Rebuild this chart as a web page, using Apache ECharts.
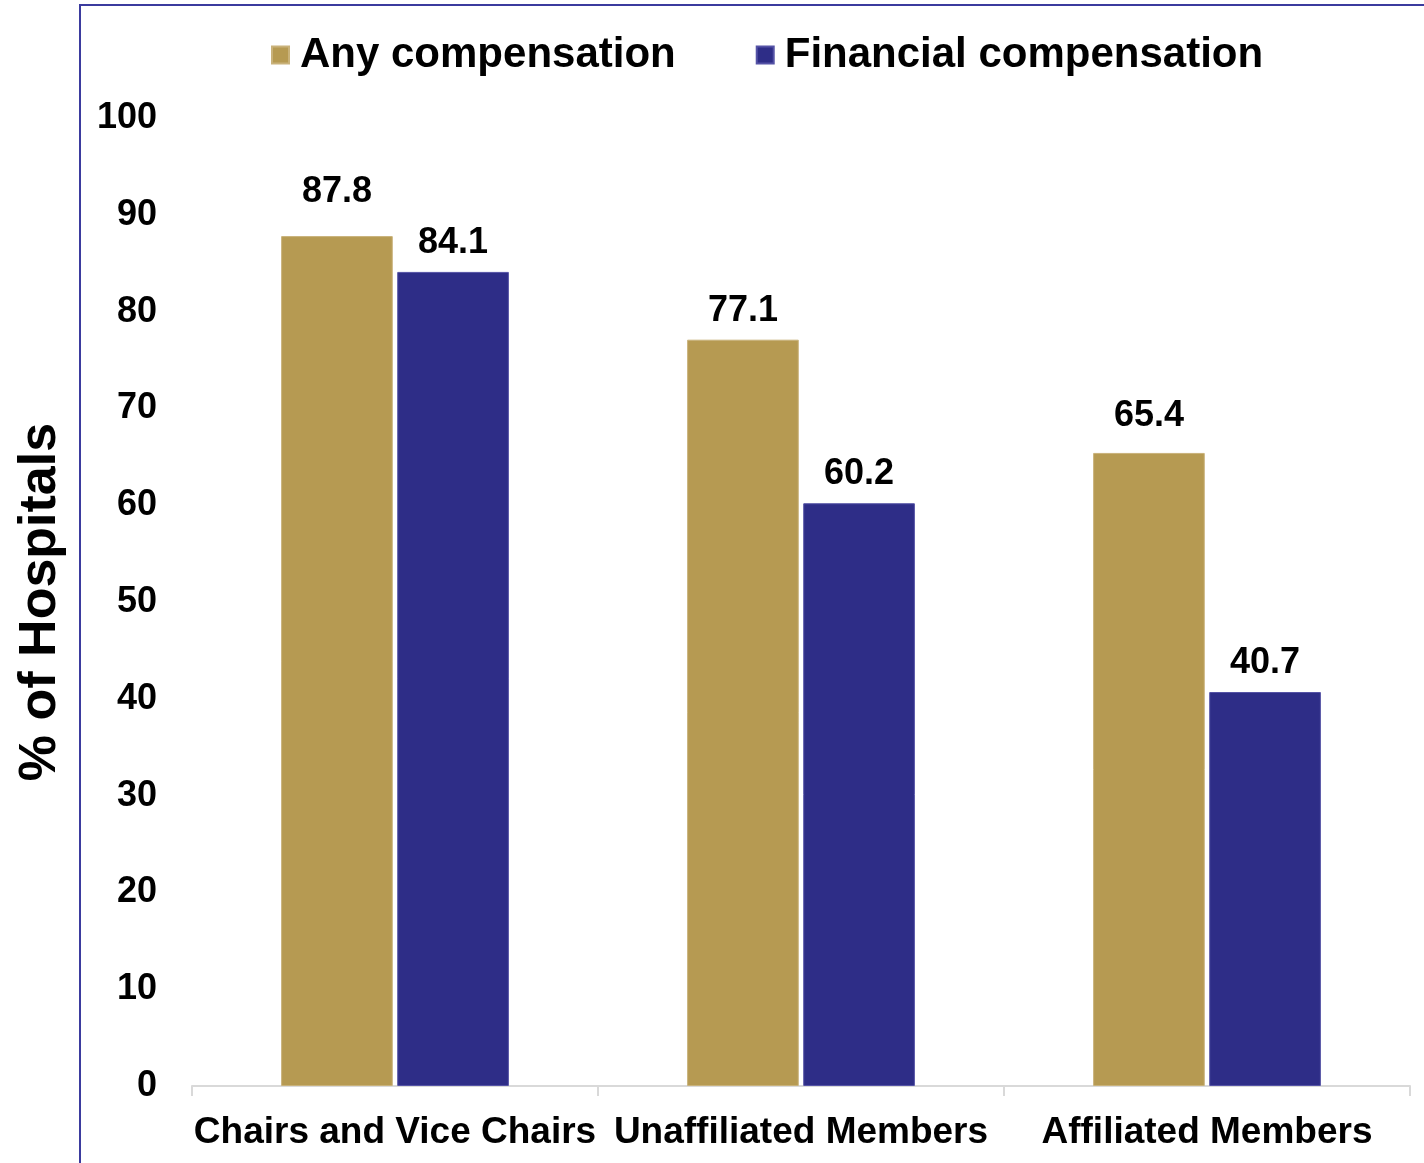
<!DOCTYPE html>
<html>
<head>
<meta charset="utf-8">
<title>% of Hospitals</title>
<script src="https://cdn.jsdelivr.net/npm/echarts@6/dist/echarts.min.js"></script>
<style>
  html, body { margin: 0; padding: 0; background: #fff; }
  #wrap { position: relative; width: 1424px; height: 1163px; overflow: hidden; }
  #frame {
    position: absolute; left: 79px; top: 4px; right: -4px; bottom: -4px;
    border-left: 2px solid #3b3b9e; border-top: 2px solid #3b3b9e;
    pointer-events: none;
  }
  #chart { position: absolute; left: 0; top: 0; width: 1424px; height: 1163px; }
</style>
</head>
<body>
<div id="wrap">
  <div id="chart"></div>
  <div id="frame"></div>
</div>
<script>
// data
var categories = ['Chairs and Vice Chairs', 'Unaffiliated Members', 'Affiliated Members'];
var anyComp = [87.8, 77.1, 65.4];
var financialComp = [84.1, 60.2, 40.7];
var seriesNames = ['Any compensation', 'Financial compensation'];

var FONT = '"Liberation Sans", Arial, sans-serif';

// label gap above the gold bars is not uniform in the original
var anyGap = [26, 11, 19];

var chart = echarts.init(document.getElementById('chart'));
var option = {
  animation: false,
  color: ['#b69a52', '#2e2d87'],
  legend: {
    top: 29,
    left: 266,
    itemWidth: 17,
    itemHeight: 17,
    itemGap: 80,
    icon: 'rect',
    textStyle: {
      fontFamily: FONT,
      fontWeight: 'bold',
      fontSize: 42,
      color: '#000',
      padding: [0, 0, 0, 6]
    },
    data: seriesNames
  },
  grid: {
    left: 192,
    right: 14,
    top: 118,
    bottom: 77,
    outerBoundsMode: 'none'
  },
  xAxis: {
    type: 'category',
    data: categories,
    axisLine: { lineStyle: { color: '#d9d9d9', width: 2 } },
    axisTick: { show: true, length: 10, lineStyle: { color: '#d9d9d9', width: 2 } },
    axisLabel: {
      interval: 0,
      margin: 28,
      fontFamily: FONT,
      fontWeight: 'bold',
      fontSize: 37,
      color: '#000'
    }
  },
  yAxis: {
    type: 'value',
    min: 0,
    max: 100,
    interval: 10,
    name: '% of Hospitals',
    nameLocation: 'middle',
    nameGap: 125,
    nameTextStyle: {
      fontFamily: FONT,
      fontWeight: 'bold',
      fontSize: 52,
      color: '#000'
    },
    splitLine: { show: false },
    axisLine: { show: false },
    axisTick: { show: false },
    axisLabel: {
      margin: 35,
      padding: [6, 0, 0, 0],
      fontFamily: FONT,
      fontWeight: 'bold',
      fontSize: 36,
      color: '#000'
    }
  },
  series: [
    {
      name: seriesNames[0],
      type: 'bar',
      data: anyComp.map(function (v, i) {
        return { value: v, label: { distance: anyGap[i] } };
      }),
      barWidth: '27.5%',
      barGap: '4%',
      itemStyle: { borderColor: '#c9b27a', borderWidth: 1 },
      label: {
        show: true,
        position: 'top',
        fontFamily: FONT,
        fontWeight: 'bold',
        fontSize: 36,
        color: '#000'
      }
    },
    {
      name: seriesNames[1],
      type: 'bar',
      data: financialComp,
      barWidth: '27.5%',
      barGap: '4%',
      itemStyle: { borderColor: '#5553a6', borderWidth: 1 },
      label: {
        show: true,
        position: 'top',
        distance: 11,
        fontFamily: FONT,
        fontWeight: 'bold',
        fontSize: 36,
        color: '#000'
      }
    }
  ]
};
chart.setOption(option);
</script>
</body>
</html>
